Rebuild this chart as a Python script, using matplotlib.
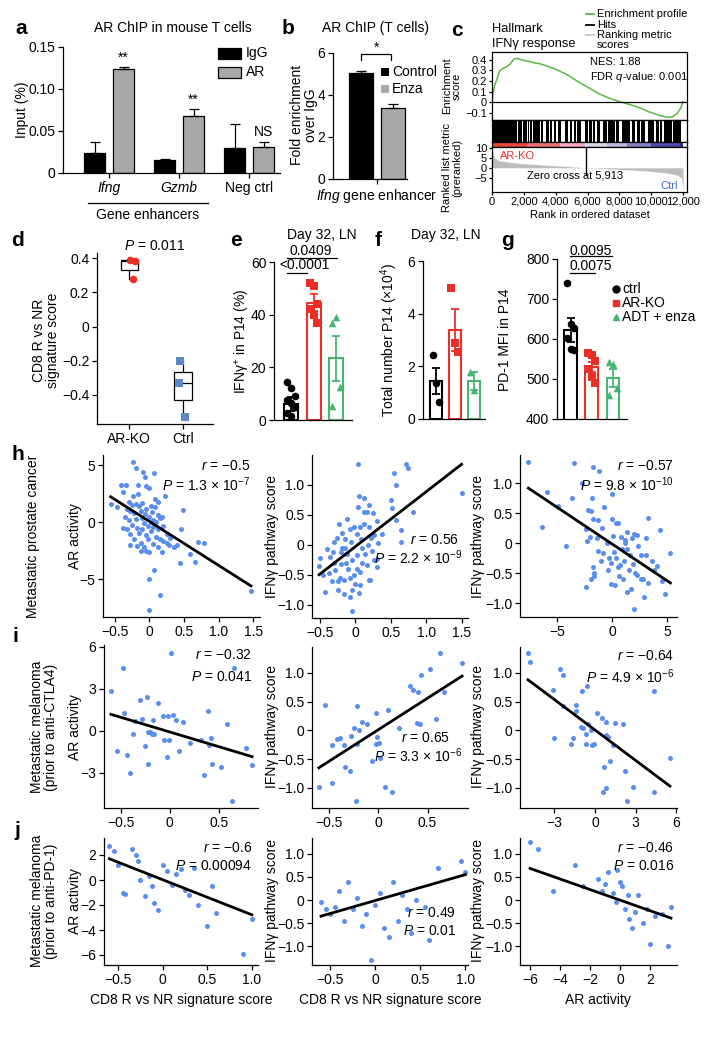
import numpy as np
import matplotlib
matplotlib.use("Agg")
import matplotlib.pyplot as plt
from matplotlib.lines import Line2D
from matplotlib.patches import Rectangle

# ----- datos -----

# a: AR ChIP en células T de ratón
a_groups = ["Ifng", "Gzmb", "Neg ctrl"]
a_igg = [0.024, 0.015, 0.030]
a_igg_err = [0.013, 0.002, 0.028]
a_ar = [0.124, 0.068, 0.031]
a_ar_err = [0.002, 0.008, 0.006]
a_marks = ["**", "**", "NS"]

# b: AR ChIP (T cells)
b_labels = ["Control", "Enza"]
b_vals = [5.05, 3.40]
b_err = [0.10, 0.17]

# c: GSEA Hallmark IFNg response
es_rank = [0, 64, 171, 321, 492, 706, 920, 1134, 1348, 1561, 1882, 2203, 2631, 3059,
           3486, 4128, 4770, 5412, 6053, 6695, 7337, 7979, 8620, 9262, 9904, 10545,
           10973, 11294, 11615, 11829, 12000]
es_score = [0.0, 0.08, 0.16, 0.22, 0.30, 0.32, 0.336, 0.36, 0.406, 0.416, 0.40, 0.39,
            0.374, 0.362, 0.342, 0.304, 0.256, 0.192, 0.138, 0.08, 0.038, 0.006, -0.022,
            -0.054, -0.096, -0.128, -0.144, -0.144, -0.112, -0.064, 0.0]
hit_gaps = [(1600, 1640), (1750, 1790), (1900, 1960), (2050, 2090), (2200, 2250),
            (2350, 2390), (2500, 2550), (2800, 2840), (3000, 3080), (3200, 3400),
            (3550, 3620), (3800, 3880), (4000, 4120), (4350, 4600), (4800, 4880),
            (5050, 5130), (5300, 5340), (5600, 5850), (6000, 6080), (6300, 6340),
            (6500, 6580), (6800, 6960), (7200, 7280), (7450, 7490), (7700, 7780),
            (8000, 8180), (8400, 8440), (8700, 8820), (9000, 9080), (9300, 9340),
            (9600, 9780), (9900, 9940), (10200, 10280), (10500, 10540), (10700, 10780),
            (11100, 11140), (11300, 11340), (11850, 12250)]
rank_x = [0, 60, 150, 400, 1000, 2000, 3000, 4000, 5000, 5913, 7000, 8000, 9000,
          10000, 11000, 11600, 11900, 12000]
rank_metric = [9.5, 7.0, 5.0, 3.6, 2.8, 2.0, 1.5, 1.0, 0.5, 0.0, -0.4, -0.8, -1.2,
               -1.8, -2.6, -3.5, -5.0, -11.5]
zero_cross = 5913
cbar_edges = [0, 2200, 4300, 5800, 7200, 8500, 10000, 11800, 12000]
cbar_colors = ["#e8453c", "#ee6f72", "#f4aac0", "#dcd3e8", "#bdb9de", "#8581c6",
               "#4f4bab", "#2e3193"]

# d: CD8 R vs NR signature score
d_groups = ["AR-KO", "Ctrl"]
d_arko = [0.39, 0.385, 0.28]
d_ctrl = [-0.20, -0.33, -0.53]

# e: IFNg+ in P14 (%)
e_ctrl = [14.5, 12.0, 9.0, 7.5, 6.5, 5.0, 2.5, 1.5]
e_arko = [52.0, 51.0, 44.0, 42.0, 40.0, 37.0]
e_adt = [37.0, 39.0, 12.5, 5.5]
e_mean = [6.2, 44.5, 23.5]
e_sem = [2.6, 3.2, 8.5]

# f: total number P14 (x10^4)
f_ctrl = [2.42, 1.38, 0.65]
f_arko = [4.96, 2.88, 2.55]
f_adt = [1.8, 1.1]
f_mean = [1.45, 3.38, 1.45]
f_sem = [0.50, 0.78, 0.35]

# g: PD-1 MFI in P14
g_ctrl = [740, 637, 628, 602, 575, 572]
g_arko = [565, 560, 545, 525, 505, 490]
g_adt = [543, 537, 478, 460]
g_mean = [622, 530, 502]
g_sem = [30, 12, 22]
treat_labels = ["ctrl", "AR-KO", "ADT + enza"]

# h: cáncer de próstata metastásico
h1_x = [-0.56, -0.47, -0.41, -0.34, -0.38, -0.23, -0.2, -0.09, -0.06, 0.07, -0.17, -0.05,
        0.0, -0.24, -0.16, 0.23, 0.49, -0.3, -0.25, -0.2, -0.15, -0.1, -0.05, 0.02, 0.08,
        -0.28, -0.22, -0.12, -0.06, 0.04, 0.12, 0.15, -0.35, -0.3, -0.2, -0.1, 0.0, 0.06,
        0.1, 0.18, -0.25, -0.18, -0.08, -0.02, 0.05, 0.12, 0.2, -0.38, -0.32, -0.28, -0.15,
        -0.05, 0.03, 0.1, 0.15, 0.2, 0.25, 0.3, -0.22, -0.12, -0.02, 0.06, -0.28, -0.18,
        -0.08, 0.0, 0.12, 0.18, 0.35, 0.28, -0.12, -0.05, 0.7, 0.79, 0.59, 0.45, 0.66, 0.07,
        0.0, 0.16, 0.0, 0.46, 1.47, 0.08, -0.33, 0.12, 0.02, -0.1, 0.25, 0.4]
h1_y = [1.6, 1.3, 3.3, 3.3, 2.7, 5.3, 4.8, 4.4, 4.0, 4.3, 3.3, 3.2, 3.0, 2.3, 2.5, 2.3,
        1.1, 1.8, 1.5, 1.6, 1.4, 1.7, 1.2, 1.4, 1.3, 1.0, 0.8, 1.0, 0.7, 0.9, 0.6, 0.4, 0.5,
        0.2, 0.3, 0.4, 0.5, 0.2, 0.0, 0.5, -0.2, -0.5, -0.1, -0.3, -0.4, -0.6, -0.3, -0.5,
        -0.6, -1.0, -0.9, -1.1, -0.8, -1.3, -1.5, -1.6, -1.8, -1.4, -1.5, -1.8, -1.5, -1.9,
        -2.0, -2.1, -2.2, -2.6, -2.2, -2.6, -2.2, -2.0, -2.5, -2.5, -1.7, -1.8, -2.8, -3.6,
        -3.5, -4.2, -5.0, -6.4, -7.7, -0.6, -6.0, 2.0, 1.2, 1.8, 0.0, -0.6, -1.0, -2.0]
h1_fit = (-3.85, 0.08)

h2_x = [0.04, 0.71, 0.74, 0.54, 0.57, 1.5, 0.05, 0.12, 0.19, 0.04, 0.16, 0.25, 0.5, 0.52,
        0.81, 0.58, 0.65, 0.65, 0.3, -0.23, -0.12, -0.08, -0.19, -0.26, -0.4, -0.31, -0.2,
        -0.14, -0.06, 0.02, 0.06, 0.13, 0.2, 0.27, 0.32, 0.18, 0.1, 0.02, -0.05, -0.13, -0.2,
        -0.28, -0.37, -0.22, -0.16, -0.08, -0.02, 0.06, 0.16, 0.27, 0.31, 0.2, -0.5, -0.51,
        -0.42, -0.25, -0.16, -0.08, -0.04, 0.06, 0.21, 0.3, 0.1, -0.1, -0.3, -0.35, -0.45,
        0.0, -0.12, 0.08, -0.02, -0.15, -0.3, 0.14, 0.24, 0.12, -0.05, 0.02, -0.25, 0.38,
        0.05, -0.33, 0.22, -0.18]
h2_y = [1.35, 1.35, 1.28, 1.2, 1.0, 0.87, 0.82, 0.78, 0.67, 0.63, 0.55, 0.53, 0.75, 0.62,
        0.55, 0.42, 0.25, 0.05, 0.4, 0.35, 0.43, 0.27, 0.2, 0.12, -0.07, -0.12, -0.12, -0.05,
        0.05, 0.18, 0.3, 0.35, 0.3, 0.17, 0.03, 0.0, -0.05, -0.17, -0.25, -0.3, -0.32, -0.42,
        -0.47, -0.55, -0.58, -0.55, -0.5, -0.45, -0.33, -0.25, -0.24, -0.58, -0.22, -0.36,
        -0.78, -0.75, -0.82, -0.87, -1.1, -0.67, -0.58, -0.37, -0.3, -0.4, -0.3, -0.2, -0.5,
        -0.65, -0.15, 0.1, 0.3, 0.1, 0.05, -0.15, -0.1, 0.55, -0.75, -0.4, -0.6, 0.18, -0.8,
        -0.6, 0.12, -0.05]
h2_fit = (0.917, -0.03)

h3_x = [-7.6, -3.45, -1.7, -1.2, -2.7, -5.9, -4.9, -6.4, -4.2, -3.6, -1.8, 0.0, -2.2, -1.9,
        -1.3, -1.7, -2.4, -2.3, -0.7, 0.35, 0.5, 1.35, 2.0, 1.2, 1.8, 2.25, 3.05, 3.3, 4.4,
        5.3, -1.4, -1.3, -0.5, -0.8, -0.3, 0.35, 0.7, -1.6, -1.6, -2.4, -1.9, -1.7, -0.1,
        -0.1, 0.3, 1.35, 1.7, 2.0, 2.9, 2.3, 3.3, 4.1, 4.5, 4.8, 0.9, 1.1, 1.5, 2.6, 0.6,
        -0.9, 0.1, 1.0, 2.4, 3.6, 0.8, -0.4, 1.9, 2.8, 0.2, 1.4, 3.8, -1.0, 0.5, 2.1, -2.0,
        1.2, 0.0, 2.6, 1.6, 3.1]
h3_y = [1.35, 1.33, 1.27, 1.2, 1.0, 0.85, 0.62, 0.27, -0.05, 0.75, 0.75, 0.82, 0.55, 0.53,
        0.38, 0.4, 0.23, 0.03, 0.6, 0.33, 0.33, 0.18, 0.15, 0.05, 0.08, 0.13, 0.08, 0.42,
        0.22, -0.17, 0.08, -0.13, 0.0, -0.17, -0.25, -0.25, -0.37, -0.5, -0.55, -0.73, -0.6,
        -0.4, -0.33, -0.68, -0.7, -0.82, -0.77, -1.1, -0.9, -0.53, -0.67, -0.38, -0.63, -0.85,
        -0.1, -0.3, -0.45, -0.2, -0.55, 0.25, 0.12, -0.6, -0.05, -0.3, 0.1, -0.45, -0.35,
        -0.6, -0.15, -0.1, -0.45, -0.3, -0.4, -0.5, 0.1, 0.0, 0.4, -0.6, -0.2, -0.2]
h3_fit = (-0.1225, -0.013)

# i: melanoma metastásico (antes de anti-CTLA4)
i1_x = [-0.6, -0.54, -0.48, -0.47, -0.44, -0.4, -0.37, -0.35, -0.3, -0.28, -0.25, -0.23,
        -0.22, -0.22, -0.2, -0.18, -0.16, -0.17, -0.12, -0.07, -0.06, -0.03, -0.02, -0.01,
        0.01, 0.03, 0.06, 0.09, 0.14, 0.21, 0.32, 0.35, 0.39, 0.4, 0.42, 0.43, 0.52, 0.58,
        0.63, 0.66, 0.78, 0.84]
i1_y = [2.85, -1.43, 4.5, 1.3, -1.7, -3.0, -0.2, 0.7, 2.2, 0.86, -1.07, 2.43, -0.07, -2.36,
        -0.1, -0.25, -0.2, 0.8, 2.0, 1.07, -0.64, -1.86, 1.07, -0.64, 5.6, 1.14, 0.79, -1.43,
        0.64, -0.86, -0.64, -3.14, 1.43, -1.0, -0.5, -2.36, -2.57, 0.5, -5.0, 4.5, -1.2, -2.4]
i1_fit = (-2.1, -0.07)

i2_x = [-0.6, -0.54, -0.47, -0.47, -0.42, -0.39, -0.35, -0.34, -0.29, -0.27, -0.24, -0.22,
        -0.21, -0.21, -0.19, -0.16, -0.11, -0.06, -0.02, -0.01, -0.02, 0.01, 0.02, 0.07, 0.1,
        0.14, 0.21, 0.32, 0.35, 0.4, 0.43, 0.39, 0.42, 0.53, 0.59, 0.63, 0.67, 0.85]
i2_y = [-0.98, 0.44, -0.25, -0.92, -0.15, -0.13, -0.25, -0.64, -0.71, -0.1, 0.05, -1.23,
        0.43, -0.24, 0.0, 0.15, 0.11, -0.53, 0.3, -0.12, -0.23, -0.22, -0.48, -0.98, 0.35,
        -1.07, 0.04, 0.78, 0.7, 0.67, 0.96, 0.13, 0.11, 1.07, 0.2, 1.35, 0.67, 1.17]
i2_fit = (1.10, 0.01)

i3_x = [-4.96, -4.8, -2.6, -2.4, -3.1, -0.96, -0.6, -2.4, -1.4, -1.4, -3.0, -1.8, -1.65,
        -1.04, -0.9, -0.67, -0.67, -0.5, -0.3, -0.2, -0.07, 0.15, 0.5, 0.8, 0.8, 1.0, 1.3,
        1.5, 2.1, 1.1, 0.67, 0.8, 0.6, 2.2, 2.4, 2.8, 4.4, 4.4, 5.55]
i3_y = [1.35, 1.19, 1.07, 0.97, 0.7, 0.69, 0.78, 0.43, 0.44, 0.34, -0.13, -0.24, -0.14,
        0.06, 0.04, -0.06, -0.24, 0.11, 0.0, -0.25, -0.23, 0.3, 0.22, 0.15, -0.08, -0.11,
        -0.25, 0.13, 0.11, -0.53, -0.63, -1.0, -1.07, -0.71, -1.22, -0.98, 0.69, -1.08, -0.48]
i3_fit = (-0.176, 0.007)

# j: melanoma metastásico (antes de anti-PD-1)
j1_x = [-0.6, -0.55, -0.5, -0.45, -0.42, -0.35, -0.3, -0.28, -0.25, -0.2, -0.15, -0.12,
        -0.1, -0.05, 0.0, 0.05, 0.1, 0.15, 0.2, 0.25, 0.3, 0.35, 0.4, 0.5, 0.55, 0.6, 0.9, 1.0]
j1_y = [2.7, 2.3, 1.2, -1.0, -1.1, 2.5, 2.0, 1.5, 0.0, -1.3, 0.3, -0.5, -1.8, -2.4, 1.2,
        0.7, -0.4, 0.5, 0.9, -0.8, -1.2, 1.0, -2.0, -3.7, -0.5, -2.6, -5.9, -3.1]
j1_fit = (-2.8, 0.02)

j2_x = [-0.6, -0.55, -0.5, -0.45, -0.4, -0.35, -0.3, -0.25, -0.2, -0.15, -0.1, -0.05, 0.0,
        0.05, 0.1, 0.15, 0.2, 0.25, 0.3, 0.35, 0.4, 0.45, 0.55, 0.6, 0.7, 0.95, 1.0]
j2_y = [-0.05, -0.2, -0.3, -0.15, 0.2, -0.45, 0.4, -0.2, 0.05, -0.55, -0.3, -1.3, -0.1,
        0.15, -0.6, -0.8, 0.4, -0.45, 0.1, -0.2, -0.7, 0.0, -0.15, -0.85, 0.7, 0.85, 0.6]
j2_fit = (0.56, -0.01)

j3_x = [-6.0, -5.5, -4.5, -3.0, -2.5, -1.5, -1.2, -1.0, -0.8, -0.5, -0.3, -0.2, 0.0, 0.1,
        0.3, 0.5, 0.6, 0.8, 1.0, 1.2, 1.5, 1.8, 2.0, 2.3, 2.8, 3.2, 3.4]
j3_y = [1.25, 1.1, 0.2, 0.75, 0.3, 0.45, 0.2, 0.35, 0.6, 0.15, -0.05, 0.65, 0.4, 0.3, -0.2,
        0.1, -0.4, -0.6, -0.25, 0.1, -0.5, -0.2, -0.95, -0.35, -0.3, -1.0, -0.15]
j3_fit = (-0.114, 0.0)

stats = {
    "h1": ("−0.5", "1.3 × 10$^{-7}$"), "h2": ("0.56", "2.2 × 10$^{-9}$"),
    "h3": ("−0.57", "9.8 × 10$^{-10}$"), "i1": ("−0.32", "0.041"),
    "i2": ("0.65", "3.3 × 10$^{-6}$"), "i3": ("−0.64", "4.9 × 10$^{-6}$"),
    "j1": ("−0.6", "0.00094"), "j2": ("0.49", "0.01"), "j3": ("−0.46", "0.016"),
}

# ----- estilo -----
W, H = 712, 1050
FS = 10
SMALL = 8.0
plt.rcParams['font.family'] = ['Liberation Sans', 'DejaVu Sans']
plt.rcParams['mathtext.fontset'] = 'custom'
plt.rcParams['mathtext.rm'] = 'Liberation Sans'
plt.rcParams['mathtext.it'] = 'Liberation Sans:italic'
plt.rcParams['mathtext.bf'] = 'Liberation Sans:bold'
plt.rcParams['font.size'] = FS
plt.rcParams['axes.linewidth'] = 0.9
plt.rcParams['xtick.major.width'] = 0.9
plt.rcParams['ytick.major.width'] = 0.9
plt.rcParams['xtick.major.size'] = 3.5
plt.rcParams['ytick.major.size'] = 3.5
plt.rcParams['xtick.major.pad'] = 2
plt.rcParams['ytick.major.pad'] = 2

RED = "#ec2f26"
GREEN = "#45b56f"
BLUE = "#5a8ded"
GSEA_GREEN = "#5cb844"
GRAY = "#a8a8a8"

fig = plt.figure(figsize=(W / 100, H / 100), dpi=100)


def px_ax(l, t, r, b):
    return fig.add_axes([l / W, 1 - b / H, (r - l) / W, (b - t) / H])


def ftext(x, y, s, **kw):
    kw.setdefault('va', 'center')
    return fig.text(x / W, 1 - y / H, s, **kw)


def fline(xs, ys, **kw):
    fig.add_artist(Line2D([x / W for x in xs], [1 - y / H for y in ys], **kw))


def labs(vals, nd):
    out = []
    for v in vals:
        s = "0" if v == 0 else f"{v:.{nd}f}"
        out.append(s.replace("-", "−"))
    return out


def clean(ax):
    ax.spines['top'].set_visible(False)
    ax.spines['right'].set_visible(False)
    ax.tick_params(labelsize=FS)


def panel_label(x, y, s):
    ftext(x, y, s, fontsize=15, fontweight='bold', ha='center')


# ----- a -----
ax = px_ax(63, 47, 280, 173)
clean(ax)
xs = np.arange(len(a_groups))
off, bw = 0.207, 0.3
ax.bar(xs - off, a_igg, bw, color='black', edgecolor='black', lw=0.9)
ax.bar(xs + off, a_ar, bw, color=GRAY, edgecolor='black', lw=0.9)
ax.errorbar(xs - off, a_igg, yerr=[np.zeros(3), a_igg_err], fmt='none', ecolor='black',
            capsize=3.5, elinewidth=0.9, capthick=0.9)
ax.errorbar(xs + off, a_ar, yerr=[np.zeros(3), a_ar_err], fmt='none', ecolor='black',
            capsize=3.5, elinewidth=0.9, capthick=0.9)
for x, v, e, m in zip(xs, a_ar, a_ar_err, a_marks):
    ax.text(x + off, v + e + 0.003, m, ha='center', va='bottom', fontsize=FS)
ax.set_xlim(-0.66, 2.44)
ax.set_ylim(0, 0.15)
ax.set_yticks([0, 0.05, 0.10, 0.15])
ax.set_yticklabels(["0", "0.05", "0.10", "0.15"])
ax.set_xticks(xs)
ax.set_xticklabels(a_groups)
for lbl in ax.get_xticklabels()[:2]:
    lbl.set_fontstyle('italic')
panel_label(21, 28, "a")
ftext(173, 28, "AR ChIP in mouse T cells", ha='center')
ftext(22, 110, "Input (%)", rotation=90, ha='center')
fline([88, 208], [203, 203], color='black', lw=0.9)
ftext(148, 215, "Gene enhancers", ha='center')
fig.add_artist(Rectangle((218 / W, 1 - 59 / H), 23 / W, 11 / H, facecolor='black',
                         edgecolor='black', lw=0.9, transform=fig.transFigure))
fig.add_artist(Rectangle((218 / W, 1 - 78 / H), 23 / W, 11 / H, facecolor=GRAY,
                         edgecolor='black', lw=0.9, transform=fig.transFigure))
ftext(246, 53, "IgG")
ftext(246, 72, "AR")

# ----- b -----
ax = px_ax(333, 53, 407, 179)
clean(ax)
ax.bar([0, 1], b_vals, 0.75, color=['black', GRAY], edgecolor='black', lw=0.9)
ax.errorbar([0, 1], b_vals, yerr=[[0, 0], b_err], fmt='none', ecolor='black', capsize=3.5,
            elinewidth=0.9, capthick=0.9)
ax.set_xlim(-0.86, 1.45)
ax.set_ylim(0, 6)
ax.set_yticks([0, 2, 4, 6])
ax.set_xticks([0.5])
ax.set_xticklabels(["$Ifng$ gene enhancer"])
ax.plot([0.02, 0.02, 0.95, 0.95], [5.67, 5.95, 5.95, 5.67], color='black', lw=0.9,
        clip_on=False)
ax.text(0.485, 5.9, "*", ha='center', va='bottom', fontsize=FS)
panel_label(288, 28, "b")
ftext(375, 28, "AR ChIP (T cells)", ha='center')
ftext(304, 115, "Fold enrichment\nover IgG", rotation=90, ha='center', linespacing=1.0)
for i, (lbl, c) in enumerate(zip(b_labels, ['black', GRAY])):
    fig.add_artist(Rectangle((381 / W, 1 - (76 + 17 * i) / H), 8 / W, 8 / H,
                             facecolor=c, edgecolor='none', transform=fig.transFigure))
    ftext(392, 72 + 17 * i, lbl)

# ----- c -----
XL = (0, 12250)
ax_es = px_ax(492, 52, 687, 120)
ax_es.plot(es_rank, es_score, color=GSEA_GREEN, lw=1.1)
ax_es.axhline(0, color='black', lw=0.9)
ax_es.set_xlim(*XL)
ax_es.set_ylim(-0.171, 0.476)
ax_es.set_xticks([])
ax_es.set_yticks([-0.1, 0, 0.1, 0.2, 0.3, 0.4])
ax_es.set_yticklabels(labs([-0.1, 0, 0.1, 0.2, 0.3, 0.4], 1), fontsize=SMALL)
ax_es.tick_params(length=2.5, pad=1)
ax_es.text(0.50, 0.85, "NES: 1.88", transform=ax_es.transAxes, fontsize=SMALL,
           va='center')
ax_es.text(0.50, 0.63, "FDR $q$-value: 0.001", transform=ax_es.transAxes, fontsize=SMALL,
           va='center')

ax_hit = px_ax(492, 120, 687, 142)
ax_hit.axvspan(0, 12000, color='black', lw=0)
for g0, g1 in hit_gaps:
    ax_hit.axvspan(g0, g1, color='white', lw=0)
ax_hit.set_xlim(*XL)
ax_hit.set_ylim(0, 1)
ax_hit.set_xticks([])
ax_hit.set_yticks([])

ax_cb = px_ax(492, 142, 687, 147)
for k, c in enumerate(cbar_colors):
    ax_cb.axvspan(cbar_edges[k], cbar_edges[k + 1], color=c, lw=0)
ax_cb.set_xlim(*XL)
ax_cb.set_xticks([])
ax_cb.set_yticks([])

ax_rk = px_ax(492, 147, 687, 192)
ax_rk.fill_between(rank_x, rank_metric, 0, color="#bdbdbd", lw=0)
ax_rk.plot([zero_cross, zero_cross], [-3.5, 9.8], color='black', lw=1.0)
ax_rk.set_xlim(*XL)
ax_rk.set_ylim(-12, 10.3)
ax_rk.set_yticks([-5, 0, 5, 10])
ax_rk.set_yticklabels(labs([-5, 0, 5, 10], 0), fontsize=SMALL)
ax_rk.set_xticks(range(0, 12001, 2000))
ax_rk.set_xticklabels([f"{v:,}" for v in range(0, 12001, 2000)], fontsize=SMALL)
ax_rk.tick_params(length=2.5, pad=1)
ax_rk.text(500, 6.0, "AR-KO", color=RED, fontsize=SMALL, va='center')
ax_rk.text(2200, -3.8, f"Zero cross at {zero_cross:,}", fontsize=SMALL, va='center')
ax_rk.text(11700, -9.0, "Ctrl", color="#3f6fd8", fontsize=SMALL, va='center', ha='right')
ax_rk.set_xlabel("Rank in ordered dataset", fontsize=SMALL, labelpad=2)
panel_label(457, 30, "c")
ftext(492, 29, "Hallmark", fontsize=9.3)
ftext(492, 44, "IFNγ response", fontsize=9.3)
ftext(452, 86, "Enrichment\nscore", rotation=90, ha='center', fontsize=SMALL,
      linespacing=0.95)
ftext(452, 168, "Ranked list metric\n(preranked)", rotation=90, ha='center',
      fontsize=SMALL, linespacing=0.95)
for k, (lbl, c) in enumerate(zip(["Enrichment profile", "Hits", "Ranking metric"],
                                 [GSEA_GREEN, 'black', '#c8c8c8'])):
    yy = 14 + 10.5 * k
    fline([586, 594], [yy, yy], color=c, lw=1.3)
    ftext(597, yy, lbl, fontsize=SMALL)
ftext(597, 45, "scores", fontsize=SMALL)

# ----- d -----
ax = px_ax(97, 253, 213, 424)
clean(ax)
ax.boxplot([d_arko, d_ctrl], positions=[0, 1], widths=0.32, whis=(0, 100),
           patch_artist=True, showcaps=False,
           boxprops=dict(facecolor='white', edgecolor='black', lw=0.9),
           medianprops=dict(color='black', lw=0.9),
           whiskerprops=dict(color='black', lw=0.9))
ax.scatter(0 + np.array([0.02, 0.1, 0.07]), d_arko, s=30, color=RED, marker='o', zorder=3,
           lw=0)
ax.scatter(1 + np.array([-0.05, -0.08, 0.04]), d_ctrl, s=26, color="#5f86c9", marker='s',
           zorder=3, lw=0)
ax.set_xlim(-0.6, 1.56)
ax.set_ylim(-0.57, 0.43)
ax.set_yticks([-0.4, -0.2, 0, 0.2, 0.4])
ax.set_yticklabels(labs([-0.4, -0.2, 0, 0.2, 0.4], 1))
ax.set_xticks([0, 1])
ax.set_xticklabels(d_groups)
ax.text(0.5, 1.0, "$P$ = 0.011", transform=ax.transAxes, ha='center', va='bottom')
panel_label(18, 240, "d")
ftext(46, 340, "CD8 R vs NR\nsignature score", rotation=90, ha='center', linespacing=1.0)


# ----- e, f, g -----
def dot_bar(ax, groups, means, sems, width):
    colors = ['black', RED, GREEN]
    marks = ['o', 's', '^']
    for i, (vals, m, e, c, mk) in enumerate(zip(groups, means, sems, colors, marks)):
        ax.bar(i, m, width, facecolor='white', edgecolor=c, lw=1.5, zorder=1)
        ax.errorbar(i, m, yerr=e, fmt='none', ecolor=c, capsize=3, elinewidth=1.3,
                    capthick=1.3, zorder=2)
        n = len(vals)
        jit = (np.arange(n) % 3 - 1) * width * 0.28
        ax.scatter(i + jit, vals, s=30, color=c, marker=mk, zorder=3, lw=0)
    ax.set_xticks([])


ax = px_ax(274, 262, 352, 420)
clean(ax)
dot_bar(ax, [e_ctrl, e_arko, e_adt], e_mean, e_sem, 0.62)
ax.set_xlim(-0.76, 2.71)
ax.set_ylim(0, 60)
ax.set_yticks([0, 20, 40, 60])
ax.plot([-0.18, 2.04], [61.5, 61.5], color='black', lw=0.9, clip_on=False)
ax.plot([-0.18, 0.71], [55.8, 55.8], color='black', lw=0.9, clip_on=False)
ax.text(0.85, 64.3, "0.0409", ha='center', va='center', fontsize=FS)
ax.text(0.62, 58.7, "<0.0001", ha='center', va='center', fontsize=FS)
panel_label(236, 240, "e")
ftext(322, 235, "Day 32, LN", ha='center')
ftext(242, 341, "IFNγ$^{+}$ in P14 (%)", rotation=90, ha='center')

ax = px_ax(423, 261, 485, 419)
clean(ax)
dot_bar(ax, [f_ctrl, f_arko, f_adt], f_mean, f_sem, 0.64)
ax.set_xlim(-0.69, 2.61)
ax.set_ylim(0, 6)
ax.set_yticks([0, 2, 4, 6])
panel_label(378, 240, "f")
ftext(446, 235, "Day 32, LN", ha='center')
ftext(389, 340, "Total number P14 (×10$^{4}$)", rotation=90, ha='center')

ax = px_ax(557, 259, 627, 419)
clean(ax)
dot_bar(ax, [g_ctrl, g_arko, g_adt], g_mean, g_sem, 0.61)
ax.set_xlim(-0.64, 2.66)
ax.set_ylim(400, 800)
ax.set_yticks([400, 500, 600, 700, 800])
ax.plot([-0.02, 1.95], [807.5, 807.5], color='black', lw=0.9, clip_on=False)
ax.plot([-0.02, 1.15], [765, 765], color='black', lw=0.9, clip_on=False)
ax.text(0.97, 821, "0.0095", ha='center', va='center', fontsize=FS)
ax.text(0.97, 783, "0.0075", ha='center', va='center', fontsize=FS)
panel_label(507, 240, "g")
ftext(505, 340, "PD-1 MFI in P14", rotation=90, ha='center')
for k, (lbl, c, mk) in enumerate(zip(treat_labels, ['black', RED, GREEN], ['o', 's', '^'])):
    yy = 289 + 14 * k
    fig.add_artist(Line2D([616 / W], [1 - yy / H], marker=mk, color=c, ms=5, lw=0,
                          transform=fig.transFigure))
    ftext(622, yy, lbl)


# ----- h, i, j -----
def scatter_panel(box, x, y, fit, xlim, ylim, xt, xnd, yt, ynd, key, r_px, p_px):
    ax = px_ax(*box)
    clean(ax)
    x = np.asarray(x)
    ax.scatter(x, y, s=13, color=BLUE, lw=0, zorder=2)
    xx = np.array([x.min(), x.max()])
    ax.plot(xx, fit[0] * xx + fit[1], color='black', lw=2.0, zorder=3)
    ax.set_xlim(*xlim)
    ax.set_ylim(*ylim)
    ax.set_xticks(xt)
    ax.set_xticklabels(labs(xt, xnd))
    ax.set_yticks(yt)
    ax.set_yticklabels(labs(yt, ynd))
    r, p = stats[key]
    ftext(r_px[0], r_px[1], f"$r$ = {r}", ha='right')
    ftext(p_px[0], p_px[1], f"$P$ = {p}", ha='right')
    return ax


ifn_ticks = [-1.0, -0.5, 0, 0.5, 1.0]
scatter_panel((103, 455, 260, 617), h1_x, h1_y, h1_fit, (-0.67, 1.6), (-8.3, 5.9),
              [-0.5, 0, 0.5, 1.0, 1.5], 1, [-5, 0, 5], 0, "h1", (250, 466), (250, 485))
scatter_panel((312, 455, 468, 618), h2_x, h2_y, h2_fit, (-0.61, 1.59), (-1.22, 1.5),
              [-0.5, 0, 0.5, 1.0, 1.5], 1, ifn_ticks, 1, "h2", (459, 540), (462, 558))
scatter_panel((520, 455, 677, 617), h3_x, h3_y, h3_fit, (-8.36, 5.9), (-1.23, 1.47),
              [-5, 0, 5], 0, ifn_ticks, 1, "h3", (674, 466), (674, 485))
scatter_panel((104, 645, 258, 808), i1_x, i1_y, i1_fit, (-0.67, 0.9), (-5.5, 6.14),
              [-0.5, 0, 0.5], 1, [-3, 0, 3, 6], 0, "i1", (252, 655), (252, 677))
scatter_panel((312, 647, 468, 808), i2_x, i2_y, i2_fit, (-0.67, 0.91), (-1.35, 1.45),
              [-0.5, 0, 0.5], 1, ifn_ticks, 1, "i2", (450, 738), (462, 756))
scatter_panel((520, 647, 677, 808), i3_x, i3_y, i3_fit, (-5.55, 6.07), (-1.35, 1.45),
              [-3, 0, 3, 6], 0, ifn_ticks, 1, "i3", (674, 656), (674, 677))
scatter_panel((104, 838, 258, 965), j1_x, j1_y, j1_fit, (-0.66, 1.07), (-6.8, 3.36),
              [-0.5, 0, 0.5, 1.0], 1, [-6, -4, -2, 0, 2], 0, "j1", (252, 848), (252, 866))
scatter_panel((312, 838, 468, 965), j2_x, j2_y, j2_fit, (-0.7, 1.03), (-1.4, 1.34),
              [-0.5, 0, 0.5, 1.0], 1, ifn_ticks, 1, "j2", (456, 913), (456, 931))
scatter_panel((520, 838, 677, 965), j3_x, j3_y, j3_fit, (-6.67, 3.8), (-1.4, 1.34),
              [-6, -4, -2, 0, 2], 0, ifn_ticks, 1, "j3", (674, 848), (674, 866))

panel_label(18, 455, "h")
panel_label(15, 637, "i")
panel_label(17, 830, "j")
ftext(33, 536, "Metastatic prostate cancer", rotation=90, ha='center')
ftext(44, 727, "Metastatic melanoma\n(prior to anti-CTLA4)", rotation=90, ha='center',
      linespacing=1.0)
ftext(44, 901, "Metastatic melanoma\n(prior to anti-PD-1)", rotation=90, ha='center',
      linespacing=1.0)
for yc in (536, 727, 901):
    ftext(75, yc, "AR activity", rotation=90, ha='center')
    for xc in (272, 478):
        ftext(xc, yc, "IFNγ pathway score", rotation=90, ha='center')
ftext(181, 1000, "CD8 R vs NR signature score", ha='center')
ftext(390, 1000, "CD8 R vs NR signature score", ha='center')
ftext(598, 1000, "AR activity", ha='center')

fig.savefig("out.png", dpi=100)
